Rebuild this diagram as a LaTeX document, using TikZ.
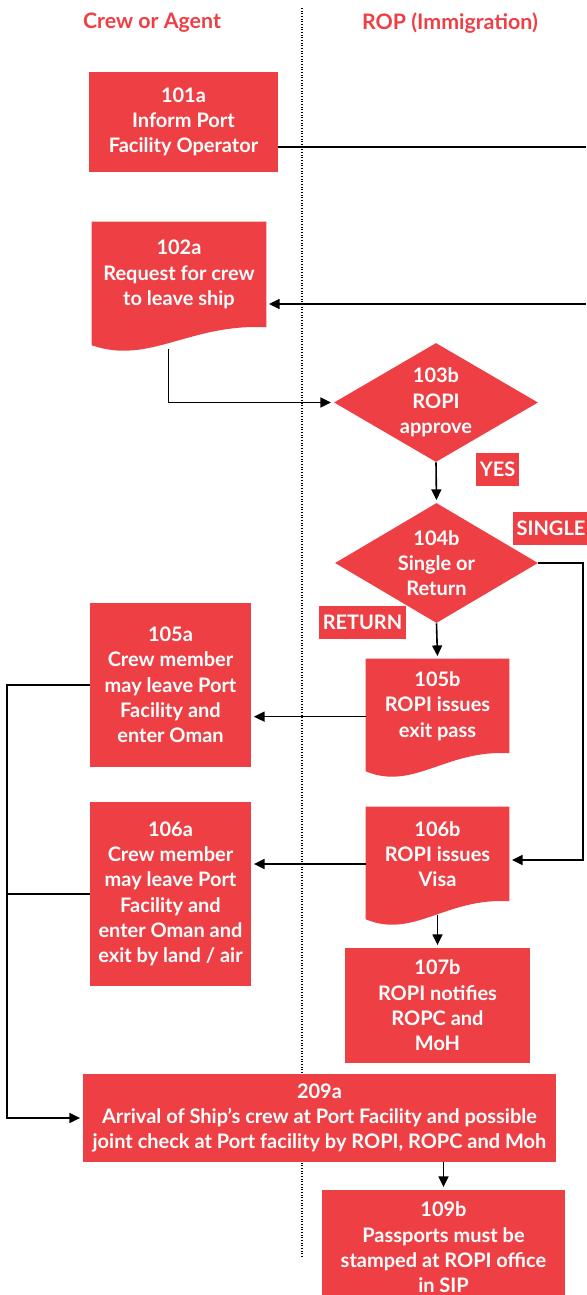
\documentclass[tikz,border=0pt]{standalone}
\usepackage{fontspec}
\setmainfont{Lato}
\usetikzlibrary{shapes.geometric,arrows.meta,calc,backgrounds}
\definecolor{ropred}{HTML}{EE3F45}
\tikzset{
  txt/.style={text=white, align=center, inner sep=0pt, font=\bfseries\fontsize{15}{19}\selectfont},
  box/.style={txt, fill=ropred},
  boxsize/.style 2 args={minimum width=#1*0.75pt, minimum height=#2*0.75pt},
  decision/.style={box, diamond, aspect=1.7},
  tag/.style={box, minimum height=24.75pt, inner xsep=2.5pt},
  lane/.style={text=ropred, font=\bfseries\fontsize{16}{19}\selectfont},
  flow/.style={line width=1.2pt},
  arr/.style={flow, -{Triangle[length=8pt,width=7.5pt]}, shorten >=2pt}
}
% document symbol: flat top, wavy bottom running down to the left
\newcommand{\docfill}[1]{%
  \fill[ropred] (#1.north west) -- (#1.north east) -- (#1.south east)
    .. controls ($(#1.south east)!0.44!(#1.south west)+(0,-4)$)
    and ($(#1.south east)!0.67!(#1.south west)+(0,38)$)
    .. ($(#1.south west)+(0,18)$) -- cycle;}
\begin{document}
\begin{tikzpicture}[x=0.75pt, y=-0.75pt]
  \useasboundingbox (0,0) rectangle (586,1295);
  \node[lane] (crew) at (152,23) {Crew or Agent};
  \node[lane] (rop) at (450,23) {ROP (Immigration)};
  \draw[line width=0.9pt, dash pattern=on 0.8pt off 1.2pt] (302,8) -- (302,1257);

  \node[box, boxsize={189}{100}] (n101a) at (183.5,122) {101a\\Inform Port\\Facility Operator};
  \node[txt, boxsize={174}{105}] (d102) at (179,274.5) {102a\\Request for crew\\to leave ship};
  \node[decision, boxsize={204}{119}] (q103) at (436,402.5) {103b\\ROPI\\approve};
  \node[tag] (yes) at (497.5,469.5) {YES};
  \node[decision, boxsize={203}{120}] (q104) at (436.5,563) {104b\\Single or\\Return};
  \node[tag] (single) at (551,528.5) {SINGLE};
  \node[tag] (return) at (362.5,622.5) {RETURN};
  \node[txt, boxsize={143}{94}] (d105) at (437.5,706) {105b\\ROPI issues\\exit pass};
  \node[box, boxsize={161}{164}] (n105a) at (170.5,685) {105a\\Crew member\\may leave Port\\Facility and\\enter Oman};
  \node[txt, boxsize={143}{94}] (d106) at (437.5,854) {106b\\ROPI issues\\Visa};
  \node[box, boxsize={161}{184}] (n106a) at (170.5,894) {106a\\Crew member\\may leave Port\\Facility and\\enter Oman and\\exit by land / air};
  \node[box, boxsize={185}{115}] (n107b) at (437.5,1005.5) {107b\\ROPI notifies\\ROPC and\\MoH};
  \node[box, boxsize={473}{88}] (n209a) at (319.5,1118) {209a\\Arrival of Ship’s crew at Port Facility and possible\\joint check at Port facility by ROPI, ROPC and Moh};
  \node[box, boxsize={243}{115}] (n109b) at (443.5,1247.5) {109b\\Passports must be\\stamped at ROPI office\\in SIP};

  \begin{pgfonlayer}{background}
    \foreach \d in {d102,d105,d106} {\docfill{\d}}
  \end{pgfonlayer}

  \coordinate (out101) at (586,147);
  \coordinate (in102) at (586,304);
  \coordinate (turn) at (583,563);
  \coordinate (bus) at (7,685);

  \draw[flow] (n101a.east |- out101) -- (out101);
  \draw[arr] (in102) -- (in102 -| d102.east);
  \draw[arr] ([xshift=-8pt,yshift=-16.5pt]d102.south) |- (q103.west);
  \draw[arr] (q103.south) -- (q104.north);
  \draw[arr] (q104.south) -- (d105.north);
  \draw[arr] (q104.east) -- (turn) |- ([yshift=-4.5pt]d106.east);
  \draw[arr] ([yshift=-8pt]d105.west) -- ([yshift=-8pt]d105.west -| n105a.east);
  \draw[arr] ([yshift=-7.5pt]d106.west) -- ([yshift=-7.5pt]d106.west -| n106a.east);
  \draw[arr] ([yshift=-10pt]d106.south) -- (n107b.north);
  \draw[arr] (n105a.west) -- (bus) |- (n209a.west);
  \draw[flow] (n106a.west) -- (n106a.west -| bus);
  \draw[arr] (n209a.south -| n109b.north) -- (n109b.north);
\end{tikzpicture}
\end{document}
